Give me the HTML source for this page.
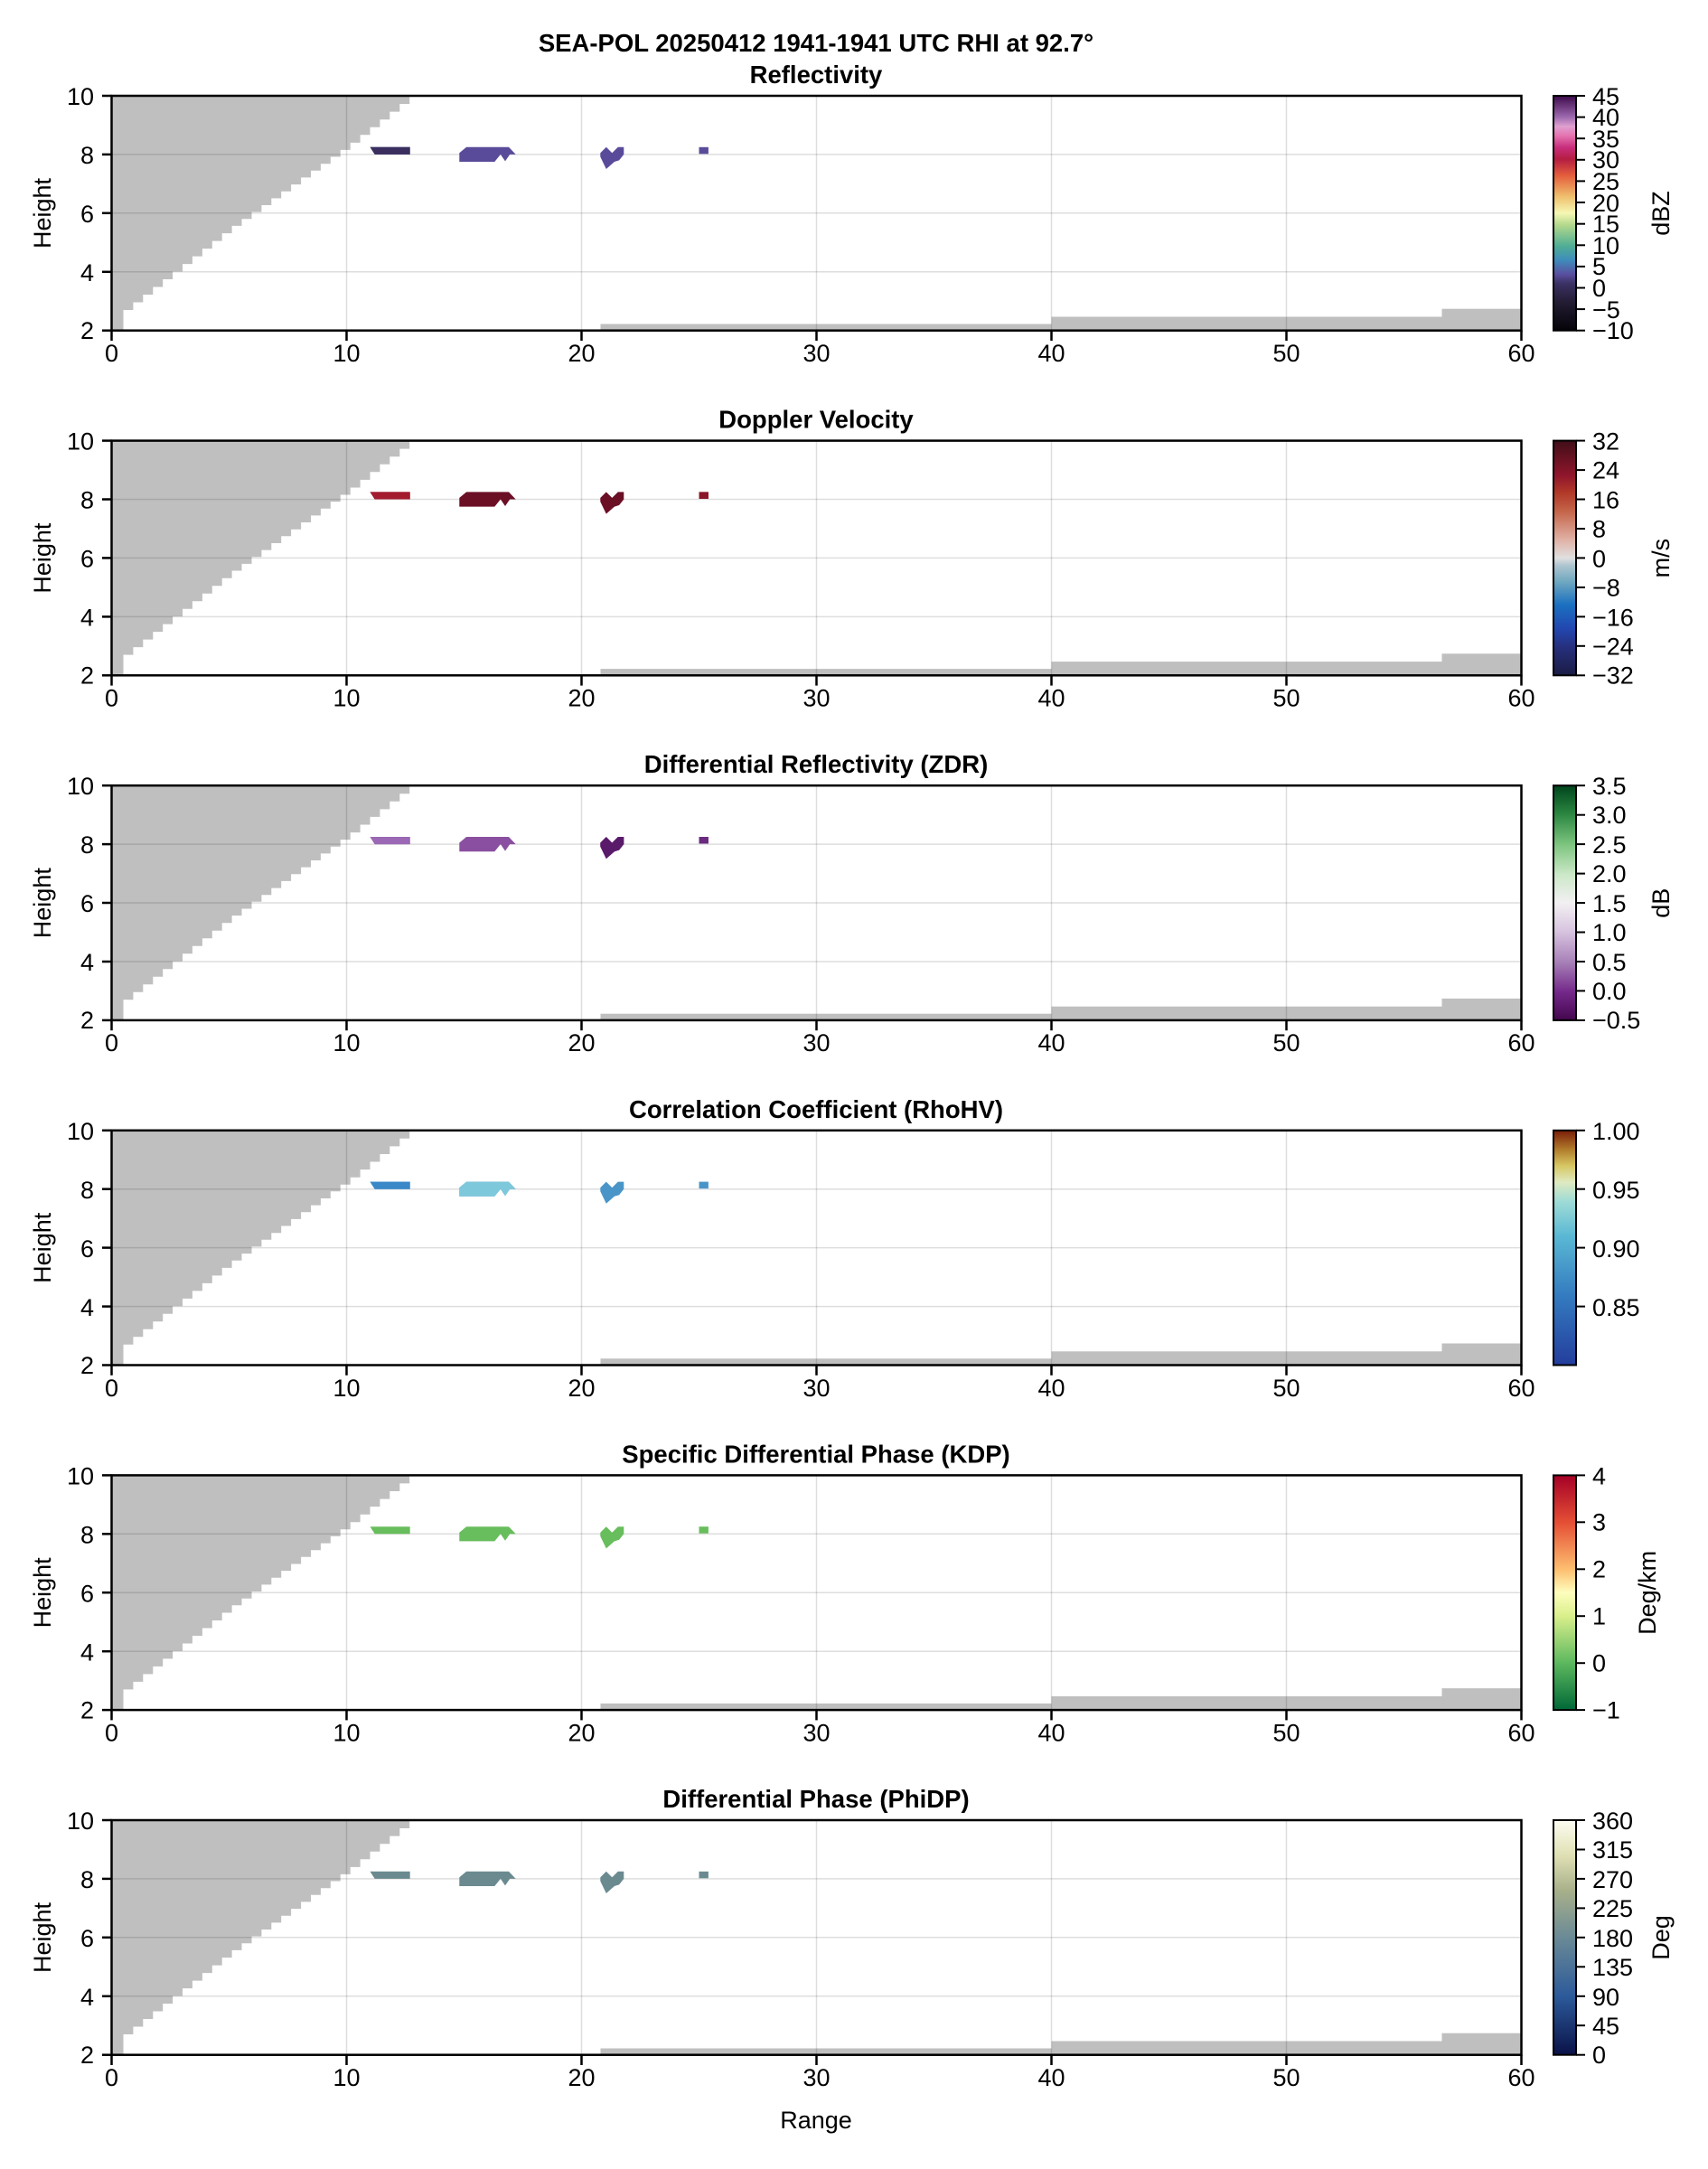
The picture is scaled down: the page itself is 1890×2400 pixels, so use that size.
<!DOCTYPE html>
<html><head><meta charset="utf-8">
<style>
html,body{margin:0;padding:0;background:#fff;}
svg{display:block;font-family:"Liberation Sans",Arial,sans-serif;}
.tk{font-size:27px;fill:#000;}
.tt{font-size:27.5px;font-weight:bold;fill:#000;}
.lb{font-size:27px;fill:#000;}
</style></head><body>
<svg id="s" width="1890" height="2400" viewBox="0 0 1890 2400" xmlns="http://www.w3.org/2000/svg">
<defs>
<linearGradient id="g1" x1="0" y1="1" x2="0" y2="0">
<stop offset="0" stop-color="#050308"/><stop offset="0.12" stop-color="#231c33"/><stop offset="0.2" stop-color="#3b3164"/><stop offset="0.24" stop-color="#5a4fa0"/><stop offset="0.3" stop-color="#3e8cbc"/><stop offset="0.36" stop-color="#50ae94"/><stop offset="0.45" stop-color="#b3d88c"/><stop offset="0.5" stop-color="#f6f7b4"/><stop offset="0.57" stop-color="#efc06e"/><stop offset="0.66" stop-color="#e45e3c"/><stop offset="0.73" stop-color="#b51d42"/><stop offset="0.78" stop-color="#c82e7c"/><stop offset="0.83" stop-color="#e474b0"/><stop offset="0.87" stop-color="#dfa0d0"/><stop offset="0.91" stop-color="#9c68ae"/><stop offset="1" stop-color="#3c0a4a"/>
</linearGradient>
<linearGradient id="g2" x1="0" y1="1" x2="0" y2="0">
<stop offset="0" stop-color="#1b1c44"/><stop offset="0.12" stop-color="#262f7c"/><stop offset="0.2" stop-color="#2247b0"/><stop offset="0.3" stop-color="#1a70c0"/><stop offset="0.4" stop-color="#70a8c0"/><stop offset="0.47" stop-color="#b0c6d0"/><stop offset="0.5" stop-color="#e0e0e0"/><stop offset="0.58" stop-color="#e0b0a4"/><stop offset="0.7" stop-color="#c46448"/><stop offset="0.78" stop-color="#b03828"/><stop offset="0.85" stop-color="#90162c"/><stop offset="1" stop-color="#400e18"/>
</linearGradient>
<linearGradient id="g3" x1="0" y1="1" x2="0" y2="0">
<stop offset="0" stop-color="#44074e"/><stop offset="0.12" stop-color="#74288a"/><stop offset="0.25" stop-color="#a882b8"/><stop offset="0.38" stop-color="#d8c4e0"/><stop offset="0.5" stop-color="#f2f0f2"/><stop offset="0.62" stop-color="#cce8c8"/><stop offset="0.75" stop-color="#7cc47e"/><stop offset="0.88" stop-color="#2a8640"/><stop offset="1" stop-color="#00441c"/>
</linearGradient>
<linearGradient id="g4" x1="0" y1="1" x2="0" y2="0">
<stop offset="0" stop-color="#233d9c"/><stop offset="0.3" stop-color="#347cc0"/><stop offset="0.55" stop-color="#5ab8d4"/><stop offset="0.7" stop-color="#a0dcd6"/><stop offset="0.78" stop-color="#dfeac0"/><stop offset="0.85" stop-color="#d6c662"/><stop offset="0.92" stop-color="#b07a2a"/><stop offset="1" stop-color="#7a1c08"/>
</linearGradient>
<linearGradient id="g5" x1="0" y1="1" x2="0" y2="0">
<stop offset="0" stop-color="#006837"/><stop offset="0.2" stop-color="#5cb85e"/><stop offset="0.4" stop-color="#d9ef8b"/><stop offset="0.5" stop-color="#fefebd"/><stop offset="0.6" stop-color="#fdbe6f"/><stop offset="0.8" stop-color="#e44e34"/><stop offset="1" stop-color="#a50026"/>
</linearGradient>
<linearGradient id="g6" x1="0" y1="1" x2="0" y2="0">
<stop offset="0" stop-color="#0a1248"/><stop offset="0.25" stop-color="#2c5a9a"/><stop offset="0.5" stop-color="#6a8a96"/><stop offset="0.7" stop-color="#a8b08a"/><stop offset="0.85" stop-color="#e0e0b4"/><stop offset="1" stop-color="#fdfdf2"/>
</linearGradient>
<g id="base">
<rect x="123.5" y="0" width="1560" height="259.7" fill="#fff"/>
<path id="stair" fill="#bfbfbf" d=""/>
<rect x="664.5" y="252.5" width="499.5" height="7.2" fill="#bfbfbf"/>
<rect x="1163.5" y="244.5" width="432" height="15.2" fill="#bfbfbf"/>
<rect x="1595.5" y="235.7" width="88" height="24" fill="#bfbfbf"/>
<g stroke="rgba(0,0,0,0.13)" stroke-width="1.5">
<line x1="383.5" y1="0" x2="383.5" y2="259.7"/><line x1="643.5" y1="0" x2="643.5" y2="259.7"/><line x1="903.5" y1="0" x2="903.5" y2="259.7"/><line x1="1163.5" y1="0" x2="1163.5" y2="259.7"/><line x1="1423.5" y1="0" x2="1423.5" y2="259.7"/>
<line x1="123.5" y1="64.9" x2="1683.5" y2="64.9"/><line x1="123.5" y1="129.8" x2="1683.5" y2="129.8"/><line x1="123.5" y1="194.8" x2="1683.5" y2="194.8"/>
</g>
<rect x="123.5" y="0" width="1560" height="259.7" fill="none" stroke="#000" stroke-width="2.5"/>
<g stroke="#000" stroke-width="2.5">
<line x1="123.5" y1="259.7" x2="123.5" y2="271"/><line x1="383.5" y1="259.7" x2="383.5" y2="271"/><line x1="643.5" y1="259.7" x2="643.5" y2="271"/><line x1="903.5" y1="259.7" x2="903.5" y2="271"/><line x1="1163.5" y1="259.7" x2="1163.5" y2="271"/><line x1="1423.5" y1="259.7" x2="1423.5" y2="271"/><line x1="1683.5" y1="259.7" x2="1683.5" y2="271"/>
<line x1="113" y1="0" x2="123.5" y2="0"/><line x1="113" y1="64.9" x2="123.5" y2="64.9"/><line x1="113" y1="129.8" x2="123.5" y2="129.8"/><line x1="113" y1="194.8" x2="123.5" y2="194.8"/><line x1="113" y1="259.7" x2="123.5" y2="259.7"/>
</g>
<g class="tk" text-anchor="middle">
<text x="123.5" y="294">0</text><text x="383.5" y="294">10</text><text x="643.5" y="294">20</text><text x="903.5" y="294">30</text><text x="1163.5" y="294">40</text><text x="1423.5" y="294">50</text><text x="1683.5" y="294">60</text>
</g>
<g class="tk" text-anchor="end">
<text x="104" y="10">10</text><text x="104" y="75">8</text><text x="104" y="140">6</text><text x="104" y="205">4</text><text x="104" y="269">2</text>
</g>
<text class="lb" text-anchor="middle" transform="translate(56,130) rotate(-90)">Height</text>
</g>
<g id="blobs">
<polygon points="409.5,56.8 453.7,56.8 453.7,64.9 414.7,64.9"/>
<polygon points="508.3,73 508.3,63.3 516.1,56.8 563,56.8 570.7,64.9 564.2,64.9 559,72.4 553.9,64.9 547.3,73"/>
<polygon points="664.3,63.3 670.8,56.8 677.3,63.3 683.8,56.8 690.3,56.8 690.3,64.9 685.1,71.4 679.9,73 670.8,81 664.3,67.5"/>
<rect x="773.5" y="56.8" width="10.4" height="7.5"/>
</g>
</defs>

<text class="tt" x="903" y="57" text-anchor="middle">SEA-POL 20250412 1941-1941 UTC RHI at 92.7°</text>

<!-- Panel 1 -->
<g transform="translate(0,106)">
<use href="#base"/>
<g fill="#5a4b9a"><use href="#blobs"/></g>
<polygon points="409.5,56.8 453.7,56.8 453.7,64.9 414.7,64.9" fill="#3a2f5e"/>
<text class="tt" x="903" y="-14" text-anchor="middle">Reflectivity</text>
<rect x="1719" y="0" width="25" height="259.7" fill="url(#g1)" stroke="#000" stroke-width="2"/>
<g stroke="#000" stroke-width="2"><line x1="1744" y1="0" x2="1754" y2="0"/><line x1="1744" y1="23.6" x2="1754" y2="23.6"/><line x1="1744" y1="47.2" x2="1754" y2="47.2"/><line x1="1744" y1="70.8" x2="1754" y2="70.8"/><line x1="1744" y1="94.4" x2="1754" y2="94.4"/><line x1="1744" y1="118" x2="1754" y2="118"/><line x1="1744" y1="141.7" x2="1754" y2="141.7"/><line x1="1744" y1="165.3" x2="1754" y2="165.3"/><line x1="1744" y1="188.9" x2="1754" y2="188.9"/><line x1="1744" y1="212.5" x2="1754" y2="212.5"/><line x1="1744" y1="236.1" x2="1754" y2="236.1"/><line x1="1744" y1="259.7" x2="1754" y2="259.7"/></g>
<g class="tk"><text x="1762" y="10">45</text><text x="1762" y="33">40</text><text x="1762" y="57">35</text><text x="1762" y="80">30</text><text x="1762" y="104">25</text><text x="1762" y="128">20</text><text x="1762" y="151">15</text><text x="1762" y="175">10</text><text x="1762" y="198">5</text><text x="1762" y="222">0</text><text x="1762" y="246">−5</text><text x="1762" y="269">−10</text></g>
<text class="lb" text-anchor="middle" transform="translate(1847,130) rotate(-90)">dBZ</text>
</g>

<!-- Panel 2 -->
<g transform="translate(0,487.6)">
<use href="#base"/>
<g fill="#6b0f25"><use href="#blobs"/></g>
<polygon points="409.5,56.8 453.7,56.8 453.7,64.9 414.7,64.9" fill="#a31b2e"/>
<rect x="773.5" y="56.8" width="10.4" height="7.5" fill="#8b1528"/>
<text class="tt" x="903" y="-14" text-anchor="middle">Doppler Velocity</text>
<rect x="1719" y="0" width="25" height="259.7" fill="url(#g2)" stroke="#000" stroke-width="2"/>
<g stroke="#000" stroke-width="2"><line x1="1744" y1="0" x2="1754" y2="0"/><line x1="1744" y1="32.5" x2="1754" y2="32.5"/><line x1="1744" y1="64.9" x2="1754" y2="64.9"/><line x1="1744" y1="97.4" x2="1754" y2="97.4"/><line x1="1744" y1="129.8" x2="1754" y2="129.8"/><line x1="1744" y1="162.3" x2="1754" y2="162.3"/><line x1="1744" y1="194.8" x2="1754" y2="194.8"/><line x1="1744" y1="227.2" x2="1754" y2="227.2"/><line x1="1744" y1="259.7" x2="1754" y2="259.7"/></g>
<g class="tk"><text x="1762" y="10">32</text><text x="1762" y="42">24</text><text x="1762" y="75">16</text><text x="1762" y="107">8</text><text x="1762" y="140">0</text><text x="1762" y="172">−8</text><text x="1762" y="205">−16</text><text x="1762" y="237">−24</text><text x="1762" y="269">−32</text></g>
<text class="lb" text-anchor="middle" transform="translate(1847,130) rotate(-90)">m/s</text>
</g>

<!-- Panel 3 -->
<g transform="translate(0,869.2)">
<use href="#base"/>
<g fill="#8a4fa0"><use href="#blobs"/></g>
<polygon points="409.5,56.8 453.7,56.8 453.7,64.9 414.7,64.9" fill="#9a68b4"/>
<polygon points="664.3,63.3 670.8,56.8 677.3,63.3 683.8,56.8 690.3,56.8 690.3,64.9 685.1,71.4 679.9,73 670.8,81 664.3,67.5" fill="#5a1a6a"/>
<rect x="773.5" y="56.8" width="10.4" height="7.5" fill="#6a2a80"/>
<text class="tt" x="903" y="-14" text-anchor="middle">Differential Reflectivity (ZDR)</text>
<rect x="1719" y="0" width="25" height="259.7" fill="url(#g3)" stroke="#000" stroke-width="2"/>
<g stroke="#000" stroke-width="2"><line x1="1744" y1="0" x2="1754" y2="0"/><line x1="1744" y1="32.5" x2="1754" y2="32.5"/><line x1="1744" y1="64.9" x2="1754" y2="64.9"/><line x1="1744" y1="97.4" x2="1754" y2="97.4"/><line x1="1744" y1="129.8" x2="1754" y2="129.8"/><line x1="1744" y1="162.3" x2="1754" y2="162.3"/><line x1="1744" y1="194.8" x2="1754" y2="194.8"/><line x1="1744" y1="227.2" x2="1754" y2="227.2"/><line x1="1744" y1="259.7" x2="1754" y2="259.7"/></g>
<g class="tk"><text x="1762" y="10">3.5</text><text x="1762" y="42">3.0</text><text x="1762" y="75">2.5</text><text x="1762" y="107">2.0</text><text x="1762" y="140">1.5</text><text x="1762" y="172">1.0</text><text x="1762" y="205">0.5</text><text x="1762" y="237">0.0</text><text x="1762" y="269">−0.5</text></g>
<text class="lb" text-anchor="middle" transform="translate(1847,130) rotate(-90)">dB</text>
</g>

<!-- Panel 4 -->
<g transform="translate(0,1250.8)">
<use href="#base"/>
<g fill="#4a95c8"><use href="#blobs"/></g>
<polygon points="508.3,73 508.3,63.3 516.1,56.8 563,56.8 570.7,64.9 564.2,64.9 559,72.4 553.9,64.9 547.3,73" fill="#7ec8dc"/>
<polygon points="409.5,56.8 453.7,56.8 453.7,64.9 414.7,64.9" fill="#3b88c8"/>
<text class="tt" x="903" y="-14" text-anchor="middle">Correlation Coefficient (RhoHV)</text>
<rect x="1719" y="0" width="25" height="259.7" fill="url(#g4)" stroke="#000" stroke-width="2"/>
<g stroke="#000" stroke-width="2"><line x1="1744" y1="0" x2="1754" y2="0"/><line x1="1744" y1="64.9" x2="1754" y2="64.9"/><line x1="1744" y1="129.8" x2="1754" y2="129.8"/><line x1="1744" y1="194.8" x2="1754" y2="194.8"/></g>
<g class="tk"><text x="1762" y="10">1.00</text><text x="1762" y="75">0.95</text><text x="1762" y="140">0.90</text><text x="1762" y="205">0.85</text></g>
</g>

<!-- Panel 5 -->
<g transform="translate(0,1632.4)">
<use href="#base"/>
<g fill="#68bd5c"><use href="#blobs"/></g>
<text class="tt" x="903" y="-14" text-anchor="middle">Specific Differential Phase (KDP)</text>
<rect x="1719" y="0" width="25" height="259.7" fill="url(#g5)" stroke="#000" stroke-width="2"/>
<g stroke="#000" stroke-width="2"><line x1="1744" y1="0" x2="1754" y2="0"/><line x1="1744" y1="51.9" x2="1754" y2="51.9"/><line x1="1744" y1="103.9" x2="1754" y2="103.9"/><line x1="1744" y1="155.8" x2="1754" y2="155.8"/><line x1="1744" y1="207.8" x2="1754" y2="207.8"/><line x1="1744" y1="259.7" x2="1754" y2="259.7"/></g>
<g class="tk"><text x="1762" y="10">4</text><text x="1762" y="61">3</text><text x="1762" y="113">2</text><text x="1762" y="165">1</text><text x="1762" y="217">0</text><text x="1762" y="269">−1</text></g>
<text class="lb" text-anchor="middle" transform="translate(1832,130) rotate(-90)">Deg/km</text>
</g>

<!-- Panel 6 -->
<g transform="translate(0,2014)">
<use href="#base"/>
<g fill="#6a8a90"><use href="#blobs"/></g>
<text class="tt" x="903" y="-14" text-anchor="middle">Differential Phase (PhiDP)</text>
<rect x="1719" y="0" width="25" height="259.7" fill="url(#g6)" stroke="#000" stroke-width="2"/>
<g stroke="#000" stroke-width="2"><line x1="1744" y1="0" x2="1754" y2="0"/><line x1="1744" y1="32.5" x2="1754" y2="32.5"/><line x1="1744" y1="64.9" x2="1754" y2="64.9"/><line x1="1744" y1="97.4" x2="1754" y2="97.4"/><line x1="1744" y1="129.8" x2="1754" y2="129.8"/><line x1="1744" y1="162.3" x2="1754" y2="162.3"/><line x1="1744" y1="194.8" x2="1754" y2="194.8"/><line x1="1744" y1="227.2" x2="1754" y2="227.2"/><line x1="1744" y1="259.7" x2="1754" y2="259.7"/></g>
<g class="tk"><text x="1762" y="10">360</text><text x="1762" y="42">315</text><text x="1762" y="75">270</text><text x="1762" y="107">225</text><text x="1762" y="140">180</text><text x="1762" y="172">135</text><text x="1762" y="205">90</text><text x="1762" y="237">45</text><text x="1762" y="269">0</text></g>
<text class="lb" text-anchor="middle" transform="translate(1847,130) rotate(-90)">Deg</text>
</g>

<text class="lb" x="903" y="2355" text-anchor="middle">Range</text>
</svg>
<script>
(function(){
  function X(v){return 123.5+26*v;}
  function Y(h){return (10-h)*32.46;}
  var pts=[[0.5,2.7],[5,5.5],[10,8.3],[12.7,10]];
  function H(x){
    if(x<=pts[0][0])return pts[0][1];
    for(var i=1;i<pts.length;i++){if(x<=pts[i][0]){var a=pts[i-1],b=pts[i];return a[1]+(b[1]-a[1])*(x-a[0])/(b[0]-a[0]);}}
    return 10;
  }
  var d="M"+X(0)+","+Y(2)+" L"+X(0.5)+","+Y(2);
  var x=0.5, h=H(0.5);
  d+=" L"+X(0.5)+","+Y(h);
  while(x<12.7){
    var nx=Math.min(x+0.42,12.7);
    d+=" L"+X(nx).toFixed(1)+","+Y(h).toFixed(1);
    h=Math.min(H(nx),10);
    d+=" L"+X(nx).toFixed(1)+","+Y(h).toFixed(1);
    x=nx;
  }
  d+=" L"+X(12.7)+","+Y(10)+" L"+X(0)+","+Y(10)+" Z";
  document.getElementById("stair").setAttribute("d",d);
})();
</script>
</body></html>
